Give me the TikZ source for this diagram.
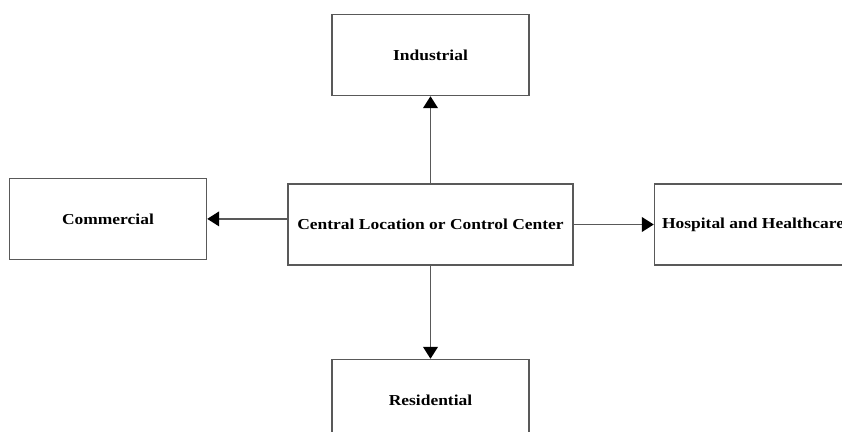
\documentclass[tikz,border=0pt]{standalone}
\usepackage{fontspec}
\setmainfont{Liberation Serif}[FakeStretch=1.15]
\usepackage{xcolor}
\usepackage{tikz}
\usetikzlibrary{arrows.meta, positioning}

\begin{document}
\begin{tikzpicture}[
    node distance=2cm,
    box/.style={draw=black!65, line width=1.1pt, minimum width=4.925cm, minimum height=2.025cm, align=center, font=\fontsize{10.8}{13}\selectfont\bfseries},
    arrow/.style={-{Triangle[length=0.3cm, width=0.37cm, color=black]}, draw=black!65, line width=1.1pt}
]
    \clip (-10.7625,-5.1875) rectangle (10.2875,5.6125);
    \node[box, minimum width=7.125cm] (central) {Central Location or Control Center};
    \node[box, above=2.175cm of central] (industrial) {Industrial};
    \node[box, below=2.325cm of central] (residential) {Residential};
    \node[box, left=of central, yshift=0.14cm] (commercial) {Commercial};
    \node[box, right=of central] (hospital) {Hospital and Healthcare};

    \draw[arrow] (central) -- (industrial);
    \draw[arrow] (central) -- (residential);
    \draw[arrow] (central.west |- commercial) -- (commercial);
    \draw[arrow] (central) -- (hospital);
\end{tikzpicture}
\end{document}
